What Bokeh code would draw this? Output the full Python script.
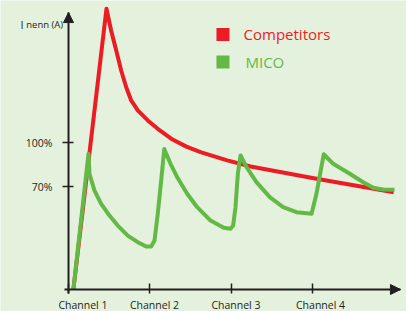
from bokeh.plotting import figure
from bokeh.models import Range1d, FixedTicker, Arrow, NormalHead, Label, LinearAxis
from bokeh.embed import file_html
from bokeh.resources import INLINE

# ---- data (x in channel units, channel 1 = 0; y in % of I nenn) ----
channels = ["Channel 1", "Channel 2", "Channel 3", "Channel 4"]
channel_pos = [0, 1, 2, 3]
y_ticks = [70, 100]
y_tick_labels = ["70%", "100%"]

competitors_x = [0.06, 0.467, 0.525, 0.587, 0.648, 0.71, 0.771, 0.852, 0.975, 1.098,
                 1.28, 1.45, 1.624, 1.952, 2.24, 3.05, 4.0]
competitors_y = [0, 191, 176, 162.6, 149, 137.6, 128.6, 121.8, 115, 109.3,
                 102, 97.2, 93.4, 87.8, 83.7, 75.3, 66.2]

mico_x = [0.06, 0.246, 0.258, 0.32, 0.402, 0.504, 0.606, 0.729, 0.852, 0.956, 1.017, 1.058,
          1.098, 1.14, 1.178,
          1.255, 1.337, 1.46, 1.583, 1.747, 1.91, 1.993, 2.025, 2.054, 2.083, 2.116,
          2.19, 2.312, 2.476, 2.64, 2.805, 2.99, 3.05, 3.11, 3.14,
          3.256, 3.46, 3.625, 3.748, 3.87, 4.01]
mico_y = [0, 92.3, 78.7, 67.3, 58.3, 50.3, 43.5, 36.7, 32.2, 29.3, 29.3, 33.3,
          51.5, 74.1, 95.5,
          85.5, 76.4, 65.1, 56, 46.9, 42, 41.3, 43.5, 56, 78.7, 91.2,
          83.2, 73, 62.8, 56, 52.6, 51.5, 65.1, 83.2, 92,
          85.5, 78.7, 73, 69.2, 68, 67.8]

series_names = ["Competitors", "MICO"]
series_colors = ["#ec1c24", "#62b946"]

# ---- layout / style constants ----
BG = "#e4f1dc"
INK = "#231f20"
FONT = "Open Sans"
W, H = 406, 311
X0_PX, Y0_PX = 68, 289          # where the axes cross
PX_PER_X, PX_PER_Y = 81.3, 1.47
x_start = -X0_PX / PX_PER_X
x_end = (W - X0_PX) / PX_PER_X
y_start = -(H - Y0_PX) / PX_PER_Y
y_end = Y0_PX / PX_PER_Y
X_AXIS_END = 4.083
Y_AXIS_END = 188.4
label_shift = [0.178, 0.058, 0.06, 0.1]   # label offset right of each channel tick

p = figure(width=W, height=H, output_backend="svg", toolbar_location=None,
           x_range=Range1d(x_start, x_end), y_range=Range1d(y_start, y_end),
           x_axis_type=None, y_axis_type=None,
           min_border_left=0, min_border_right=0, min_border_top=0, min_border_bottom=0)
p.background_fill_color = BG
p.border_fill_color = BG
p.outline_line_color = None
p.grid.visible = False


def style(ax):
    ax.axis_line_color = INK
    ax.axis_line_width = 2
    ax.major_tick_line_color = INK
    ax.major_tick_line_width = 1.5
    ax.minor_tick_line_color = None
    ax.major_label_text_font = FONT
    ax.major_label_text_color = INK
    ax.major_label_text_font_size = "10.5px"


# x axis: line + tick marks (no labels)
xaxis = LinearAxis(fixed_location=0, bounds=(-0.05, X_AXIS_END),
                   ticker=FixedTicker(ticks=channel_pos))
style(xaxis)
xaxis.major_tick_in = 6
xaxis.major_tick_out = 4
xaxis.major_label_text_color = None
xaxis.major_label_text_alpha = 0
p.add_layout(xaxis, "below")

# x axis labels (slightly right of ticks, as in the original)
lab_pos = [c + s for c, s in zip(channel_pos, label_shift)]
xlab = LinearAxis(fixed_location=0, ticker=FixedTicker(ticks=lab_pos),
                  major_label_overrides={pos: lab for pos, lab in zip(lab_pos, channels)})
style(xlab)
xlab.axis_line_color = None
xlab.major_tick_line_color = None
xlab.major_tick_in = 0
xlab.major_tick_out = 4
xlab.major_label_standoff = 4
p.add_layout(xlab, "below")

# y axis
yaxis = LinearAxis(fixed_location=0, bounds=(-2.7, Y_AXIS_END),
                   ticker=FixedTicker(ticks=y_ticks),
                   major_label_overrides={t: lab for t, lab in zip(y_ticks, y_tick_labels)})
style(yaxis)
yaxis.major_tick_in = 5
yaxis.major_tick_out = 6
yaxis.major_label_standoff = 10
p.add_layout(yaxis, "left")

# arrow heads on axes
p.add_layout(Arrow(end=NormalHead(size=10, fill_color=INK, line_color=INK, line_width=1),
                   x_start=0, y_start=Y_AXIS_END - 10, x_end=0, y_end=Y_AXIS_END,
                   line_color=None))
p.add_layout(Arrow(end=NormalHead(size=10, fill_color=INK, line_color=INK, line_width=1),
                   x_start=X_AXIS_END - 0.2, y_start=0, x_end=X_AXIS_END, y_end=0,
                   line_color=None))

# curves
p.line(competitors_x, competitors_y, line_color=series_colors[0], line_width=4,
       line_join="round")
p.line(mico_x, mico_y, line_color=series_colors[1], line_width=4, line_join="round")

# legend (squares + coloured texts)
legend_x = 1.90
legend_text_x = [2.153, 2.177]
legend_y = [173.5, 154.8]
for name, col, tx, ly in zip(series_names, series_colors, legend_text_x, legend_y):
    p.scatter([legend_x], [ly], marker="square", size=13, fill_color=col, line_color=None)
    p.add_layout(Label(x=tx, y=ly, text=name, text_color=col,
                       text_font=FONT, text_font_size="15px", text_baseline="middle"))

# y axis title
p.add_layout(Label(x=-0.59, y=180.5, text="I", text_color=INK, text_font=FONT,
                   text_font_size="11px", text_baseline="alphabetic"))
p.add_layout(Label(x=-0.52, y=180.5, text="nenn (A)", text_color=INK, text_font=FONT,
                   text_font_size="9.5px", text_baseline="alphabetic"))

open("out.html", "w").write(file_html(p, INLINE))
